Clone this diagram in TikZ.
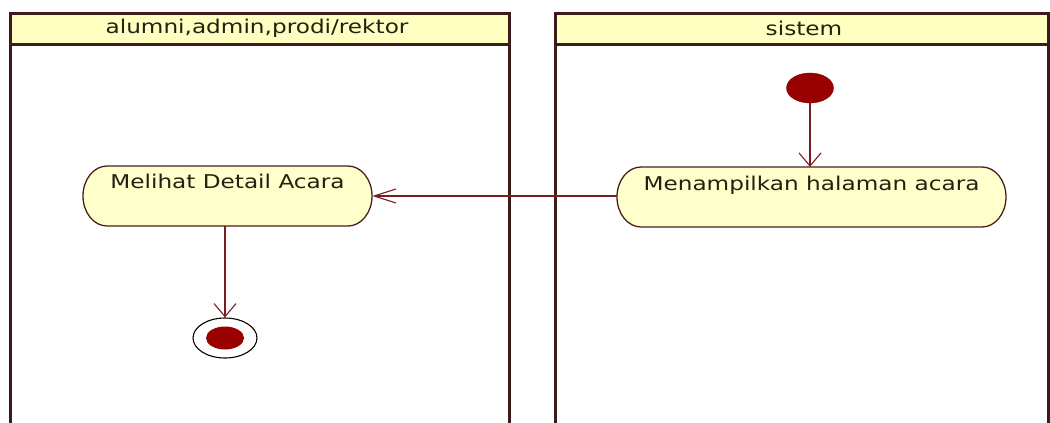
\documentclass[tikz,border=0pt]{standalone}
\usepackage{fontspec}
\setmainfont{DejaVu Sans}
\newfontfamily\diagfont[FakeStretch=1.22]{DejaVu Sans}
\usetikzlibrary{shapes.geometric,arrows.meta}
\definecolor{lanec}{HTML}{3E1B1B}
\definecolor{headfill}{HTML}{FFFFC2}
\definecolor{actfill}{HTML}{FFFFCC}
\definecolor{actline}{HTML}{4A1E1E}
\definecolor{flowc}{HTML}{7A1F1F}
\definecolor{dotc}{HTML}{990000}
\definecolor{txtc}{HTML}{222210}
\tikzset{
  lane/.style={draw=lanec, line width=3pt},
  header/.style={fill=headfill},
  headtext/.style={text=txtc, font=\diagfont\fontsize{19}{21}\selectfont},
  actshape/.style={draw=actline, fill=actfill, line width=1.3pt},
  acttext/.style={text=txtc, font=\diagfont\fontsize{19}{21}\selectfont, inner sep=0pt, minimum height=60pt, text height=14pt},
  flow/.style={draw=flowc, line width=1.4pt},
  vhead/.style={-{Straight Barb[length=13pt,width=22pt,line width=1.1pt]}},
  hhead/.style={-{Straight Barb[length=22pt,width=14pt,line width=1.1pt]}},
  startdot/.style={ellipse, fill=dotc, draw=dotc!80!black, minimum width=47pt, minimum height=30pt, inner sep=0pt},
  endring/.style={ellipse, draw=black, line width=1.1pt, fill=white, minimum width=64pt, minimum height=40pt, inner sep=0pt},
  enddot/.style={ellipse, fill=dotc, minimum width=38pt, minimum height=23pt, inner sep=0pt},
}
% activity outline: centre x, centre y, half width
\newcommand{\actbox}[3]{%
  \path[actshape] ({#1-#3+24},{#2-30}) -- ({#1+#3-24},{#2-30})
    arc[start angle=90,end angle=-90,x radius=24pt,y radius=30pt]
    -- ({#1-#3+24},{#2+30})
    arc[start angle=270,end angle=90,x radius=24pt,y radius=30pt] -- cycle;}
\begin{document}
\begin{tikzpicture}[x=1pt,y=-1pt]
\useasboundingbox (0,0) rectangle (1050,423);
\fill[white] (0,0) rectangle (1050,423);
% lanes
\fill[header] (10,13) rectangle (509,44);
\fill[header] (555,13) rectangle (1048,44);
\draw[lane] (10,423) -- (10,13) -- (509,13) -- (509,423);
\draw[lane] (10,44) -- (509,44);
\draw[lane] (555,423) -- (555,13) -- (1048,13) -- (1048,423);
\draw[lane] (555,44) -- (1048,44);
\node[headtext] (h1) at (257,28.5) {alumni,admin,prodi/rektor};
\node[headtext] (h2) at (804,28.5) {sistem};
% activities
\actbox{227.5}{196}{144.5}
\node[acttext, minimum width=289pt, text depth=30pt] (melihat) at (227.5,196) {Melihat Detail Acara};
\actbox{811.5}{197}{194.5}
\node[acttext, minimum width=389pt, text depth=28pt] (menampilkan) at (811.5,197) {Menampilkan halaman acara};
\node[startdot] (start) at (810,88) {};
\node[endring] (end) at (225,338) {};
\node[enddot] (enddot) at (end.center) {};
% flows
\draw[flow, vhead] (start) -- (start |- menampilkan.north);
\draw[flow, hhead] (menampilkan.west |- 0,196) -- (melihat.east |- 0,196);
\draw[flow, vhead] (end |- melihat.south) -- (end.north);
\end{tikzpicture}
\end{document}
